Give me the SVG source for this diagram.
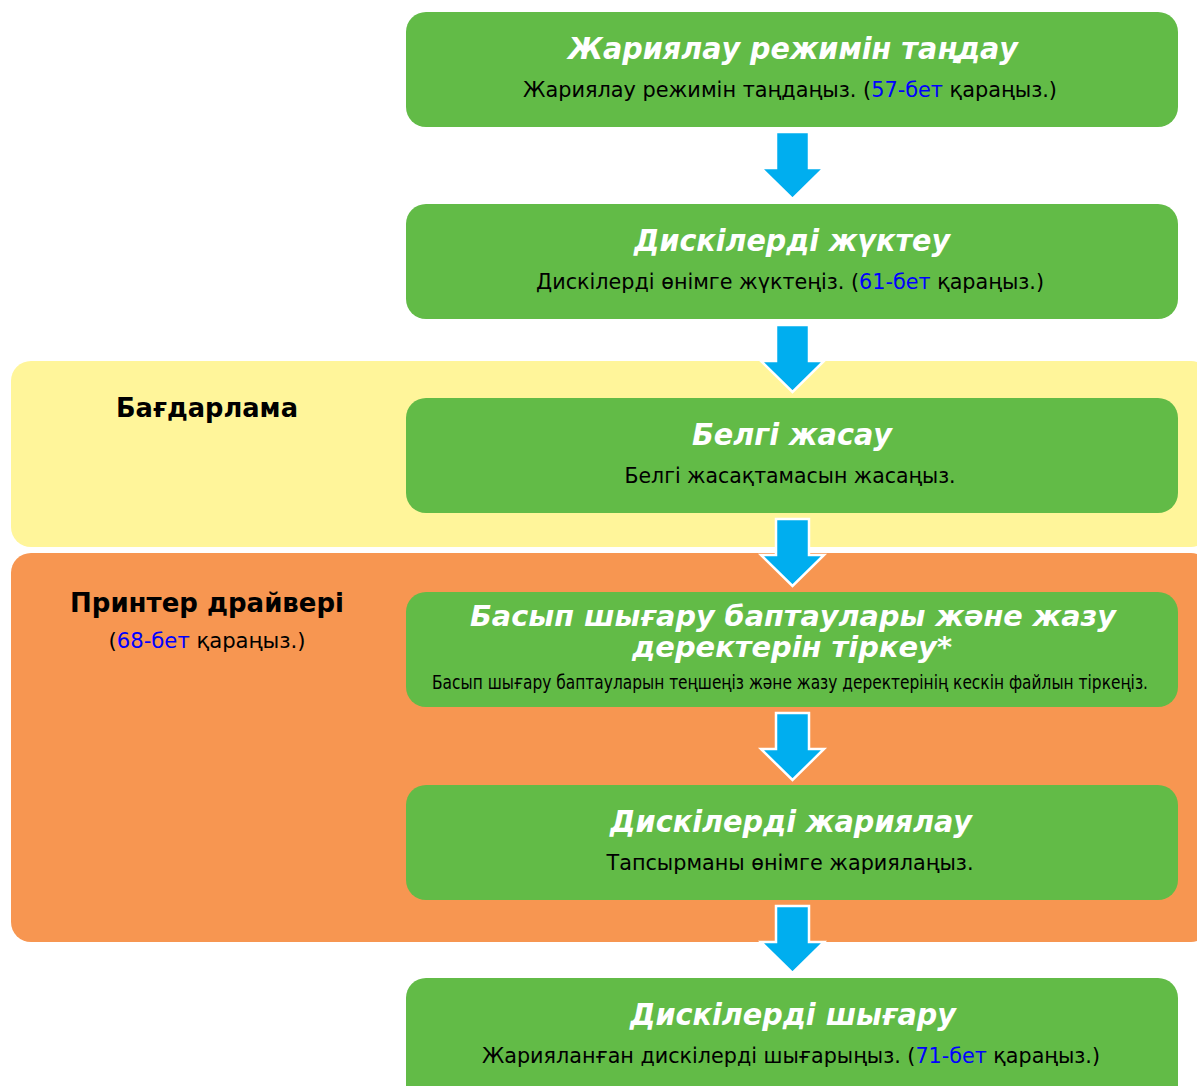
<svg xmlns="http://www.w3.org/2000/svg" xmlns:xlink="http://www.w3.org/1999/xlink" width="1197" height="1086" viewBox="0 0 1197 1086">
<style>
.box{fill:#62BB47}
.title{font-family:"DejaVu Sans",Verdana,sans-serif;font-weight:bold;font-style:italic;font-size:30px;fill:#fff;text-anchor:middle}
.t2{font-size:28px}
.body{font-family:"DejaVu Sans Condensed","DejaVu Sans",sans-serif;font-size:22px;fill:#000;text-anchor:middle}
.small{font-size:20px}
.lnk{fill:#0000FF}
.lbl{font-family:"DejaVu Sans",Verdana,sans-serif;font-weight:bold;font-size:27px;fill:#000;text-anchor:middle}
.arrow{fill:#00AEEF;stroke:#fff;stroke-width:2.5;stroke-linejoin:miter}
</style>
<defs>
<path id="arr" d="M776,0 H809 V36 H824 L792.5,67 L761,36 H776 Z"/>
</defs>
<rect width="1197" height="1086" fill="#fff"/>
<g id="lane-software">
<rect x="11" y="361" width="1200" height="186" rx="20" fill="#FFF59A"/>
<text class="lbl" x="207" y="417" textLength="182" lengthAdjust="spacingAndGlyphs">Бағдарлама</text>
</g>
<g id="lane-driver">
<rect x="11" y="553" width="1200" height="389" rx="20" fill="#F79651"/>
<text class="lbl" x="207" y="612" textLength="274" lengthAdjust="spacingAndGlyphs">Принтер драйвері</text>
<text class="body" x="207" y="648" textLength="197" lengthAdjust="spacingAndGlyphs">(<tspan class="lnk">68-бет</tspan> қараңыз.)</text>
</g>
<g id="connectors">
<use xlink:href="#arr" class="arrow" y="132"/>
<use xlink:href="#arr" class="arrow" y="325"/>
<use xlink:href="#arr" class="arrow" y="519"/>
<use xlink:href="#arr" class="arrow" y="713"/>
<use xlink:href="#arr" class="arrow" y="906"/>
</g>
<g id="step1">
<rect class="box" x="406" y="12" width="772" height="115" rx="20"/>
<text class="title" x="793" y="59" textLength="450" lengthAdjust="spacingAndGlyphs">Жариялау режимін таңдау</text>
<text class="body" x="790" y="97" textLength="534" lengthAdjust="spacingAndGlyphs">Жариялау режимін таңдаңыз. (<tspan class="lnk">57-бет</tspan> қараңыз.)</text>
</g>
<g id="step2">
<rect class="box" x="406" y="204" width="772" height="115" rx="20"/>
<text class="title" x="792" y="251" textLength="316" lengthAdjust="spacingAndGlyphs">Дискілерді жүктеу</text>
<text class="body" x="790" y="289" textLength="508" lengthAdjust="spacingAndGlyphs">Дискілерді өнімге жүктеңіз. (<tspan class="lnk">61-бет</tspan> қараңыз.)</text>
</g>
<g id="step3">
<rect class="box" x="406" y="398" width="772" height="115" rx="20"/>
<text class="title" x="792" y="445" textLength="200" lengthAdjust="spacingAndGlyphs">Белгі жасау</text>
<text class="body" x="790" y="483" textLength="331" lengthAdjust="spacingAndGlyphs">Белгі жасақтамасын жасаңыз.</text>
</g>
<g id="step4">
<rect class="box" x="406" y="592" width="772" height="115" rx="20"/>
<text class="title t2" x="793" y="626" textLength="646" lengthAdjust="spacingAndGlyphs">Басып шығару баптаулары және жазу</text>
<text class="title t2" x="792" y="657" textLength="320" lengthAdjust="spacingAndGlyphs">деректерін тіркеу*</text>
<text class="body small" x="790" y="689" textLength="716" lengthAdjust="spacingAndGlyphs">Басып шығару баптауларын теңшеңіз және жазу деректерінің кескін файлын тіркеңіз.</text>
</g>
<g id="step5">
<rect class="box" x="406" y="785" width="772" height="115" rx="20"/>
<text class="title" x="791" y="832" textLength="362" lengthAdjust="spacingAndGlyphs">Дискілерді жариялау</text>
<text class="body" x="790" y="870" textLength="367" lengthAdjust="spacingAndGlyphs">Тапсырманы өнімге жариялаңыз.</text>
</g>
<g id="step6">
<rect class="box" x="406" y="978" width="772" height="130" rx="20"/>
<text class="title" x="793" y="1025" textLength="326" lengthAdjust="spacingAndGlyphs">Дискілерді шығару</text>
<text class="body" x="791" y="1063" textLength="618" lengthAdjust="spacingAndGlyphs">Жарияланған дискілерді шығарыңыз. (<tspan class="lnk">71-бет</tspan> қараңыз.)</text>
</g>
</svg>
